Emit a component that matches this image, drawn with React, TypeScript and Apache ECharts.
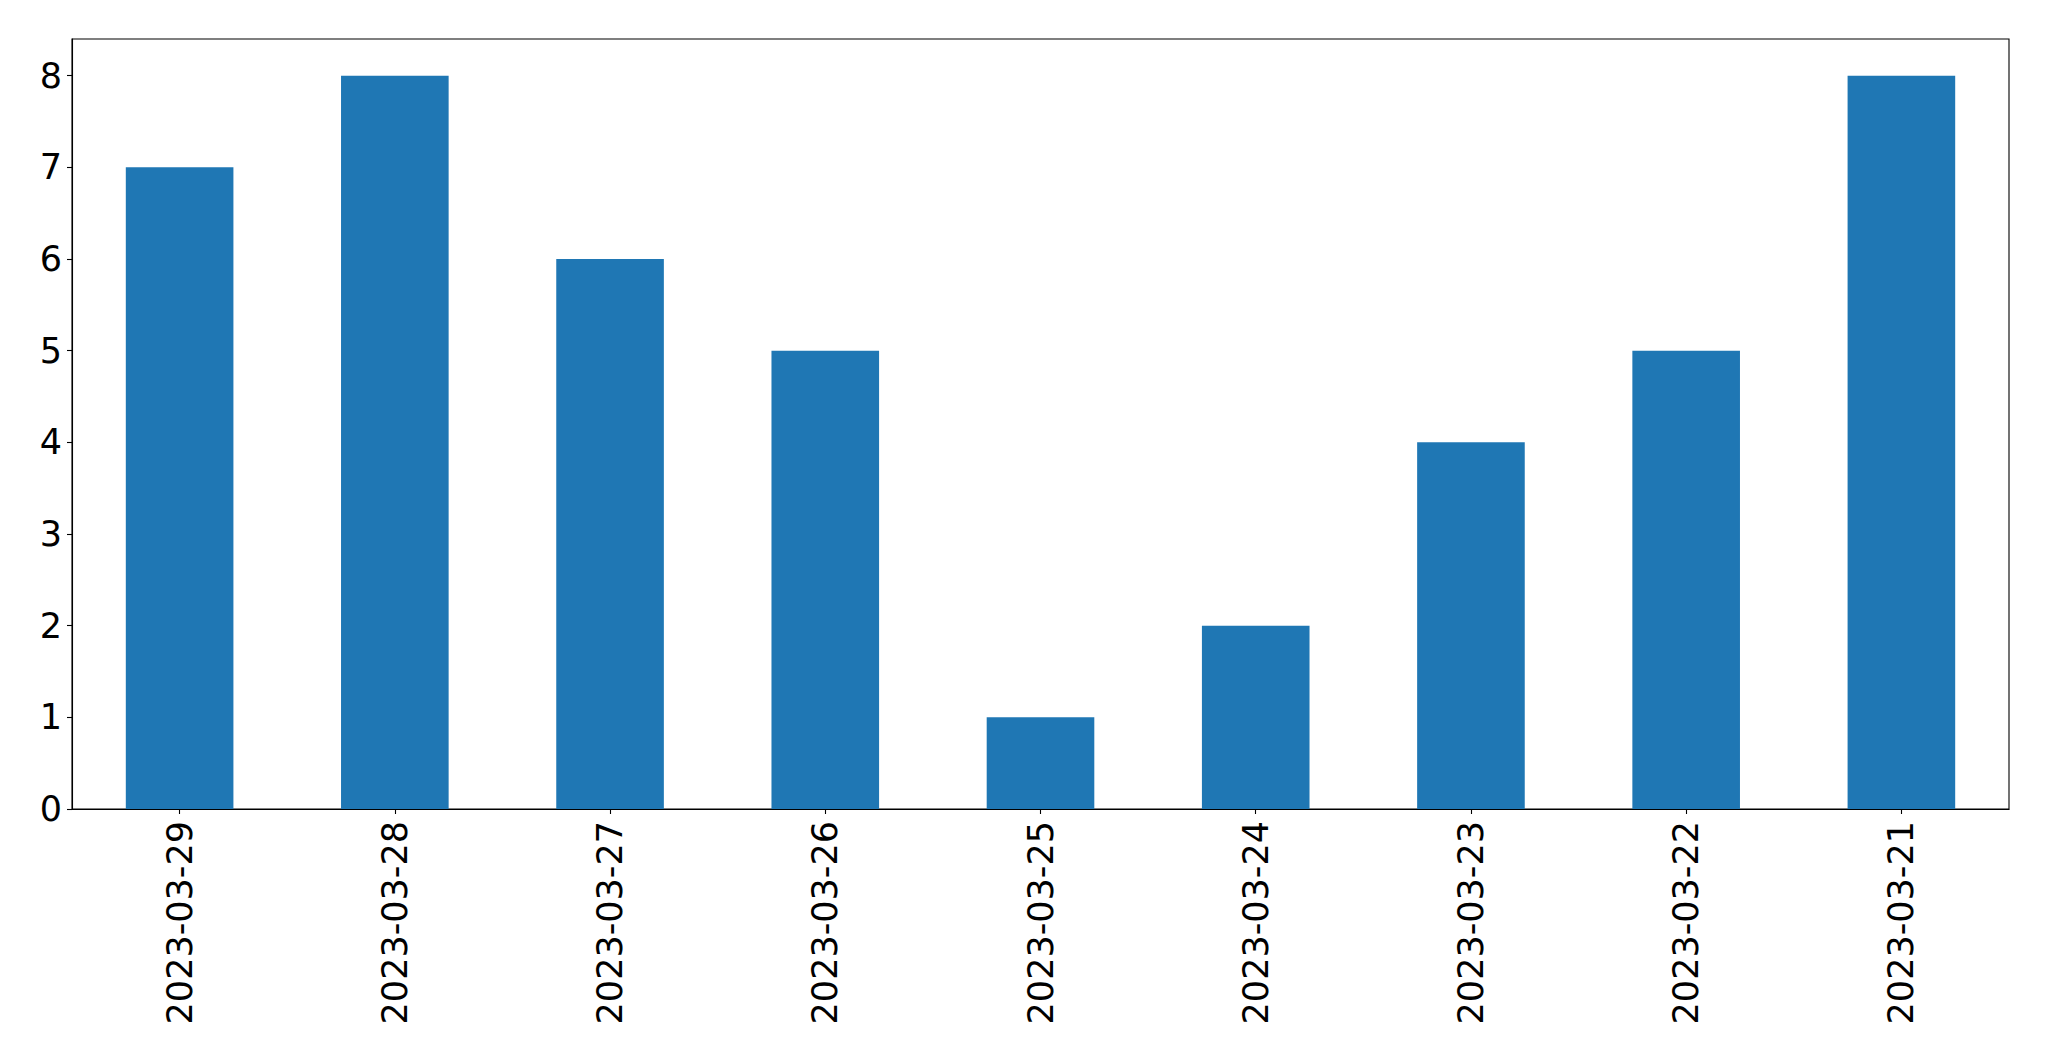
import React, { useEffect, useRef } from "react";
import * as echarts from "echarts";

const categories = [
  "2023-03-29",
  "2023-03-28",
  "2023-03-27",
  "2023-03-26",
  "2023-03-25",
  "2023-03-24",
  "2023-03-23",
  "2023-03-22",
  "2023-03-21",
];
const values = [7, 8, 6, 5, 1, 2, 4, 5, 8];
const yTicks = [0, 1, 2, 3, 4, 5, 6, 7, 8];
const yMax = 8.4;

export default function App() {
  const ref = useRef<HTMLDivElement>(null);
  useEffect(() => {
    if (!ref.current) return;
    const chart = echarts.init(ref.current, undefined, { renderer: "svg" });
    const font = "DejaVu Sans";
    chart.setOption({
      animation: false,
      backgroundColor: "#ffffff",
      grid: {
        left: 72,
        top: 39,
        right: 40,
        bottom: 252,
        show: true,
        borderColor: "#000000",
        borderWidth: 1.1,
        containLabel: false,
      },
      xAxis: {
        type: "category",
        data: categories,
        boundaryGap: true,
        axisLine: { show: true, lineStyle: { color: "#000000", width: 1.1 } },
        axisTick: {
          show: true,
          alignWithLabel: true,
          length: 5,
          lineStyle: { color: "#000000", width: 1.1 },
        },
        axisLabel: {
          rotate: 90,
          interval: 0,
          margin: 12,
          color: "#000000",
          fontFamily: font,
          fontSize: 35,
        },
        splitLine: { show: false },
      },
      yAxis: {
        type: "value",
        min: 0,
        max: yMax,
        interval: 1,
        axisLine: { show: true, lineStyle: { color: "#000000", width: 1.1 } },
        axisTick: {
          show: true,
          length: 5,
          customValues: yTicks,
          lineStyle: { color: "#000000", width: 1.1 },
        },
        axisLabel: {
          customValues: yTicks,
          margin: 10,
          color: "#000000",
          fontFamily: font,
          fontSize: 35,
        },
        splitLine: { show: false },
      },
      series: [
        {
          type: "bar",
          data: values,
          barWidth: "50%",
          itemStyle: { color: "#1f77b4" },
        },
      ],
    });
    return () => chart.dispose();
  }, []);
  return (
    <div
      ref={ref}
      style={{ position: "fixed", left: 0, top: 0, width: 2049, height: 1061, background: "#fff" }}
    />
  );
}
